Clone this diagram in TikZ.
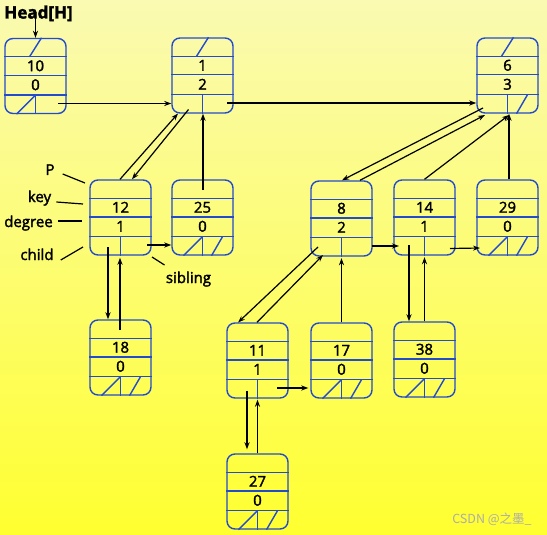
\documentclass[tikz,border=0pt]{standalone}
\usepackage{fontspec}
\setmainfont{Open Sans}[FakeBold=2]
\newfontfamily\cjkfont{Noto Sans CJK SC}
\usetikzlibrary{arrows.meta}
\definecolor{heapblue}{RGB}{35,75,205}
\definecolor{bgtop}{RGB}{250,250,178}
\definecolor{bgbot}{RGB}{255,255,48}
\tikzset{
  heap/.style={draw=heapblue,line width=1.4pt,rounded corners=8pt,minimum width=61pt,minimum height=75pt,inner sep=0pt},
  field/.style={draw=heapblue,line width=1.4pt},
  txt/.style={inner sep=0pt,font=\fontsize{15}{17}\selectfont},
  ptr/.style={-{Stealth[length=7pt,width=5pt]},line width=1.2pt},
  note/.style={line width=1.2pt},
}
\newcommand\heapnode[5]{%
  \node[heap] (#1) at (#2,#3) {};
  \draw[field] ([shift={(0,19)}]#1.north west) -- ([shift={(0,19)}]#1.north east)
    ([shift={(0,37.5)}]#1.north west) -- ([shift={(0,37.5)}]#1.north east)
    ([shift={(0,-19)}]#1.south west) -- ([shift={(0,-19)}]#1.south east)
    ([shift={(0,-19)}]#1.south) -- (#1.south);
  \node[txt] (#1-key) at ([shift={(0,28)}]#1.north) {#4};
  \node[txt] (#1-deg) at ([shift={(0,47)}]#1.north) {#5};
}
\newcommand\parnil[1]{\draw[field] ([shift={(-6,19)}]#1.north) -- ([shift={(6,0)}]#1.north);}
\newcommand\kidnil[1]{\draw[field] ([shift={(-19,0)}]#1.south) -- ([shift={(0,-19)}]#1.south);}
\newcommand\sibnil[1]{\draw[field] ([shift={(9,0)}]#1.south) -- ([shift={(20,-19)}]#1.south);}

\begin{document}
\begin{tikzpicture}[x=1pt,y=-1pt]
\fill[top color=bgtop,bottom color=bgbot] (0,0) rectangle (547,535);

\heapnode{n10}{35.5}{76}{10}{0}
\heapnode{n1}{202.5}{75.5}{1}{2}
\heapnode{n6}{507.5}{75.5}{6}{3}
\heapnode{n12}{120.5}{217.5}{12}{1}
\heapnode{n25}{202.5}{217.5}{25}{0}
\heapnode{n8}{341.5}{218.5}{8}{2}
\heapnode{n14}{424.5}{217.5}{14}{1}
\heapnode{n29}{507.5}{217.5}{29}{0}
\heapnode{n18}{120.5}{357.5}{18}{0}
\heapnode{n11}{257.5}{360.5}{11}{1}
\heapnode{n17}{341.5}{360.5}{17}{0}
\heapnode{n38}{424.5}{359.5}{38}{0}
\heapnode{n27}{257.5}{491.5}{27}{0}

\parnil{n10} \kidnil{n10}
\parnil{n1}
\parnil{n6} \sibnil{n6}
\kidnil{n25} \sibnil{n25}
\kidnil{n29} \sibnil{n29}
\kidnil{n18} \sibnil{n18}
\kidnil{n17} \sibnil{n17}
\kidnil{n38} \sibnil{n38}
\kidnil{n27} \sibnil{n27}

\node[txt,font=\bfseries\fontsize{17}{19}\selectfont,anchor=base] (head) at (38.5,18.5) {Head[H]};
\path ([shift={(0,-3)}]n10.north |- head.base) edge[ptr] (n10.north);

\path ([shift={(22.5,27.5)}]n10.center) edge[ptr] ([shift={(0,28)}]n1.west);
\path ([shift={(24.5,27.5)}]n1.center) edge[ptr] ([shift={(0,27.5)}]n6.west);
\path ([shift={(-0.5,0)}]n12.north) edge[ptr] ([shift={(-24.5,38)}]n1.center);
\path ([shift={(-14,34)}]n1.center) edge[ptr] ([shift={(11.5,0)}]n12.north);
\path ([shift={(0.5,-27.5)}]n25.center) edge[ptr] ([shift={(0.5,0)}]n1.south);
\path ([shift={(26.5,27.5)}]n12.center) edge[ptr] ([shift={(0,27.5)}]n25.west);
\path ([shift={(-12.5,29.5)}]n12.center) edge[ptr] ([shift={(-12.5,0)}]n18.north);
\path ([shift={(-0.5,-27.5)}]n18.center) edge[ptr] ([shift={(-0.5,2)}]n12.south);

\path ([shift={(-24.5,32.5)}]n6.center) edge[ptr] ([shift={(0.5,0)}]n8.north);
\path ([shift={(18.5,0)}]n8.north) edge[ptr] ([shift={(-22.5,39.5)}]n6.center);
\path (n14.north) edge[ptr] ([shift={(1.5,39.5)}]n6.center);
\path ([shift={(1.5,0)}]n29.north) edge[ptr] ([shift={(1.5,0)}]n6.south);
\path ([shift={(30.5,27.5)}]n8.center) edge[ptr] ([shift={(-25.5,28.5)}]n14.center);
\path ([shift={(25.5,31)}]n14.center) edge[ptr] ([shift={(-27.5,30.5)}]n29.center);
\path ([shift={(-23.5,28.5)}]n8.center) edge[ptr] ([shift={(-19.5,-38)}]n11.center);
\path ([shift={(-0.5,0)}]n11.north) edge[ptr] ([shift={(-18.5,36.5)}]n8.center);
\path (n17.north) edge[ptr] ([shift={(0,1.5)}]n8.south);
\path ([shift={(-15.5,27.5)}]n14.center) edge[ptr] ([shift={(-15.5,0)}]n38.north);
\path (n38.north) edge[ptr] ([shift={(0,1.5)}]n14.south);
\path ([shift={(19.5,27.5)}]n11.center) edge[ptr] ([shift={(-2,27.5)}]n17.west);
\path ([shift={(-10.5,30)}]n11.center) edge[ptr] ([shift={(-10.5,-4)}]n27.north);
\path (n27.north) edge[ptr] ([shift={(0,1)}]n11.south);

\node[txt,anchor=base] (lp) at (50,175) {P};
\node[txt,anchor=base] (lkey) at (39.5,202) {key};
\node[txt,anchor=base] (ldeg) at (28.5,227) {degree};
\node[txt,anchor=base] (lchild) at (37,260) {child};
\node[txt,anchor=base] (lsib) at (188.5,283) {sibling};
\draw[note] ([shift={(8,-1)}]lp.base east) -- ([shift={(-35.5,-34.5)}]n12.center);
\draw[note] ([shift={(5,0)}]lkey.base east) -- ([shift={(-37.5,-13.5)}]n12.center);
\draw[note] ([shift={(5,-6)}]ldeg.base east) -- ([shift={(-38.5,3.5)}]n12.center);
\draw[note] ([shift={(7,0)}]lchild.base east) -- ([shift={(-37.5,29.5)}]n12.center);
\draw[note] ([shift={(31.5,39.5)}]n12.center) -- ([shift={(-24,-18)}]lsib.base);

\node[font=\cjkfont\fontsize{12.5}{14}\selectfont,text=gray!65,inner sep=0pt] (mark) at (492,519) {CSDN @之墨\_};
\end{tikzpicture}
\end{document}
